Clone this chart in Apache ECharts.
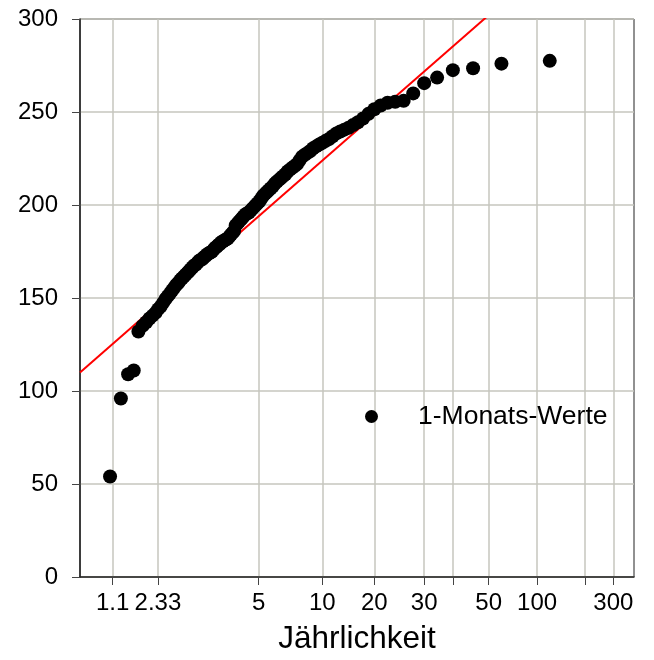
<!DOCTYPE html>
<html><head><meta charset="utf-8">
<script src="https://cdn.jsdelivr.net/npm/echarts@6/dist/echarts.min.js"></script>
<style>html,body{margin:0;padding:0;background:#fff}#c{width:654px;height:660px}</style>
</head><body><div id="c"></div>
<script>
// Annual maxima of 1-month values, sorted ascending (plotted with Weibull plotting positions i/(n+1))
const monthlyValues = [
  54, 96, 109, 111, 132, 135, 137, 139, 140.5, 142,
  144, 145.5, 147.5, 149.5, 151, 152.5, 154, 155.5, 157, 158,
  159.5, 160.5, 161.5, 162.5, 163.5, 164.5, 165.5, 166.5, 167.5, 168,
  169, 170, 170.5, 171, 172, 172.5, 173.5, 174, 174.5, 175,
  176, 177, 177.5, 178.5, 179, 180, 180.5, 181, 181.5, 182,
  183, 184, 185, 186, 189, 190, 191, 192, 193, 194,
  195, 195.5, 196, 197, 198, 199, 200, 201, 202, 203.5,
  205, 206, 207, 208, 209, 210, 211.5, 212.5, 213.5, 214.5,
  215.5, 216.5, 218, 219, 220, 221, 222, 224, 226, 227,
  228, 229, 230.5, 231.5, 232.5, 233.5, 234.5, 235.5, 237, 238.5,
  239.5, 240.5, 241.5, 243, 244.5, 246.5, 249, 251.5, 253.5, 255,
  255.5, 256, 260, 265.5, 268.5, 272.5, 273.5, 276, 277.5
];
// Return periods of the vertical grid lines and the labels printed under them
const gridReturnPeriods = [1.01, 1.1, 2.33, 5, 10, 20, 30, 50, 100, 200, 300];
const tickLabels = ['1.1', '2.33', '5', '10', '20', '30', '', '50', '100', '', '300'];
// Gumbel fit line (location, scale) in reduced variate
const fitLocation = 175.1;
const fitScale = 32.55;
const reducedRange = [-2, 6];
const yTicks = [0, 50, 100, 150, 200, 250, 300];
const seriesName = '1-Monats-Werte';

const gumbel = T => -Math.log(-Math.log(1 - 1 / T));
const n = monthlyValues.length;
const points = monthlyValues.map((v, i) => [-Math.log(-Math.log((i + 1) / (n + 1))), v]);
const gridU = gridReturnPeriods.map(gumbel);
const fitLine = reducedRange.map(u => [u, fitLocation + fitScale * u]);

const FONT = '"Liberation Sans", Arial, sans-serif';
const chart = echarts.init(document.getElementById('c'), null, {renderer: 'canvas'});
chart.setOption({
  animation: false,
  backgroundColor: '#fff',
  grid: {left: 80, right: 20, top: 19, bottom: 83, show: true, borderColor: '#222', borderWidth: 1, backgroundColor: 'transparent'},
  legend: {
    data: [seriesName], left: 360, top: 398, icon: 'circle', itemWidth: 83, itemHeight: 13,
    textStyle: {fontFamily: FONT, fontSize: 26.5, color: '#000'}
  },
  xAxis: {
    type: 'value', min: reducedRange[0], max: reducedRange[1],
    name: 'Jährlichkeit', nameLocation: 'middle', nameGap: 46,
    nameTextStyle: {fontFamily: FONT, fontSize: 31.5, color: '#000'},
    axisLine: {show: true, onZero: false, lineStyle: {color: '#222', width: 1.5}},
    axisTick: {show: true, length: 8, customValues: gridU, lineStyle: {color: '#444'}},
    axisLabel: {
      customValues: gridU, margin: 14, fontFamily: FONT, fontSize: 24, color: '#000',
      formatter: v => { let k = 0, d = 1e9; gridU.forEach((g, i) => { if (Math.abs(g - v) < d) { d = Math.abs(g - v); k = i; } }); return tickLabels[k]; }
    },
    splitLine: {show: true, lineStyle: {color: '#c6c6be', width: 1.5}}
  },
  yAxis: {
    type: 'value', min: yTicks[0], max: yTicks[yTicks.length - 1], interval: 50,
    axisLine: {show: true, onZero: false, lineStyle: {color: '#222', width: 1.5}},
    axisTick: {show: true, length: 8, lineStyle: {color: '#444'}},
    axisLabel: {margin: 22, fontFamily: FONT, fontSize: 24, color: '#000'},
    splitLine: {show: true, lineStyle: {color: '#c6c6be', width: 1.5}}
  },
  series: [
    {type: 'line', data: fitLine, symbol: 'none', clip: true, z: 2,
     lineStyle: {color: '#ff0000', width: 2}, silent: true},
    {name: seriesName, type: 'scatter', data: points, symbol: 'circle', symbolSize: 14, z: 3,
     itemStyle: {color: '#000', opacity: 1}}
  ]
});
</script></body></html>
